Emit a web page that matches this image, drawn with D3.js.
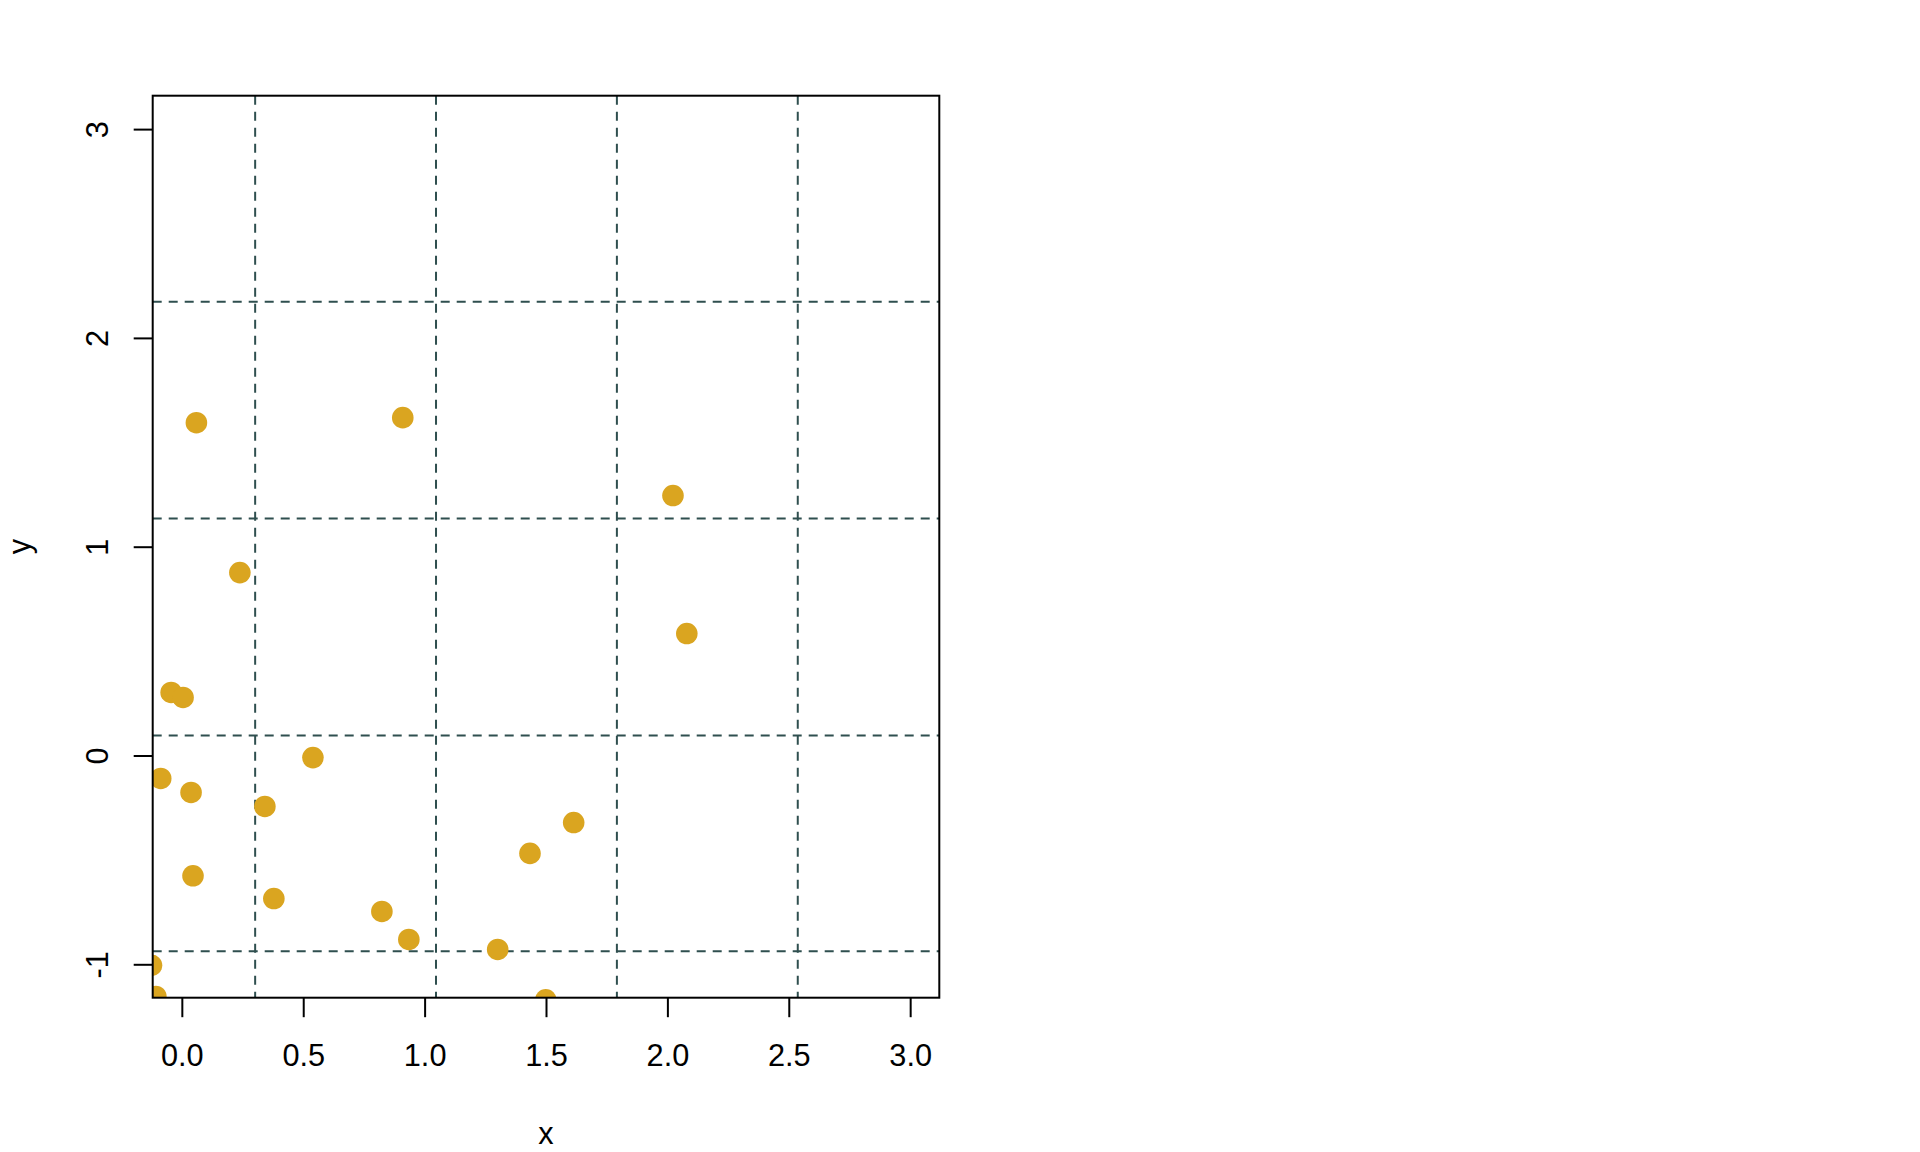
<!DOCTYPE html>
<html>
<head>
<meta charset="utf-8">
<script src="https://cdn.jsdelivr.net/npm/d3@7"></script>
<style>
  html, body { margin: 0; padding: 0; background: #ffffff; }
  svg { display: block; }
  text { font-family: "Liberation Sans", Arial, sans-serif; fill: #000; }
</style>
</head>
<body>
<script>
// ---- data ----
const xValues = [0.060, 0.910, 2.023, 0.239, 2.080, -0.044, 0.005, 0.540, -0.087, 0.038, 0.342,
                 1.614, 1.434, 0.046, 0.379, 0.824, 0.935, 1.301, -0.125, -0.107, 1.499];
const yValues = [1.594, 1.618, 1.245, 0.876, 0.584, 0.302, 0.278, -0.010, -0.110, -0.177, -0.244,
                 -0.321, -0.469, -0.576, -0.685, -0.747, -0.881, -0.929, -1.005, -1.154, -1.170];
const xTicks = [0, 0.5, 1.0, 1.5, 2.0, 2.5, 3.0];
const yTicks = [-1, 0, 1, 2, 3];
const xGrid = [0.302, 1.047, 1.792, 2.537];
const yGrid = [2.173, 1.135, 0.096, -0.938];
const xLabel = "x";
const yLabel = "y";

// ---- layout ----
const W = 1920, H = 1152;
const pLeft = 152.7, pRight = 939.3, pTop = 95.7, pBottom = 997.7;
const FS = "30.7px";

const svg = d3.select("body").append("svg").attr("width", W).attr("height", H);

const x = d3.scaleLinear().domain([-0.12, 3.12]).range([pLeft, pRight]);
const y = d3.scaleLinear().domain([-1.16, 3.16]).range([pBottom, pTop]);

svg.append("defs").append("clipPath").attr("id", "plotclip")
  .append("rect").attr("x", pLeft).attr("y", pTop)
  .attr("width", pRight - pLeft).attr("height", pBottom - pTop);

// grid
const grid = svg.append("g").attr("clip-path", "url(#plotclip)");
grid.selectAll("line.v").data(xGrid).join("line").attr("class", "v")
  .attr("x1", d => x(d)).attr("x2", d => x(d)).attr("y1", pTop).attr("y2", pBottom)
  .attr("stroke", "#2F4F4F").attr("stroke-width", 2).attr("stroke-dasharray", "9,7");
grid.selectAll("line.h").data(yGrid).join("line").attr("class", "h")
  .attr("y1", d => y(d)).attr("y2", d => y(d)).attr("x1", pLeft).attr("x2", pRight)
  .attr("stroke", "#2F4F4F").attr("stroke-width", 2).attr("stroke-dasharray", "9,7");

// points
const pts = xValues.map((v, i) => ({x: v, y: yValues[i]}));
svg.append("g").attr("clip-path", "url(#plotclip)")
  .selectAll("circle").data(pts).join("circle")
  .attr("cx", d => x(d.x)).attr("cy", d => y(d.y)).attr("r", 10.8)
  .attr("fill", "#DAA520");

// box
svg.append("rect").attr("x", pLeft).attr("y", pTop)
  .attr("width", pRight - pLeft).attr("height", pBottom - pTop)
  .attr("fill", "none").attr("stroke", "#000").attr("stroke-width", 2);

// x axis
const xAxis = svg.append("g").attr("transform", `translate(0,${pBottom})`)
  .call(d3.axisBottom(x).tickValues(xTicks).tickFormat(d3.format(".1f"))
        .tickSize(19.5).tickPadding(27.5));
xAxis.select(".domain").remove();
xAxis.selectAll(".tick line").attr("stroke", "#000").attr("stroke-width", 2);
xAxis.selectAll(".tick text").style("font-size", FS).attr("fill", "#000")
  .style("font-family", "'Liberation Sans', Arial, sans-serif");

// y axis
const yAxis = svg.append("g").attr("transform", `translate(${pLeft},0)`)
  .call(d3.axisLeft(y).tickValues(yTicks).tickFormat(d3.format("d")).tickSize(19));
yAxis.select(".domain").remove();
yAxis.selectAll(".tick line").attr("stroke", "#000").attr("stroke-width", 2);
yAxis.selectAll(".tick text")
  .attr("x", null).attr("dy", null)
  .attr("text-anchor", "middle")
  .attr("transform", "translate(-44.7,0) rotate(-90)")
  .style("font-size", FS).attr("fill", "#000")
  .style("font-family", "'Liberation Sans', Arial, sans-serif")
  .text(d => d < 0 ? "-" + Math.abs(d) : String(d));

// axis titles
svg.append("text").attr("x", (pLeft + pRight) / 2).attr("y", 1144)
  .attr("text-anchor", "middle").style("font-size", FS).text(xLabel);
svg.append("text").attr("transform", `translate(30,${(pTop + pBottom) / 2}) rotate(-90)`)
  .attr("text-anchor", "middle").style("font-size", FS).text(yLabel);
</script>
</body>
</html>
